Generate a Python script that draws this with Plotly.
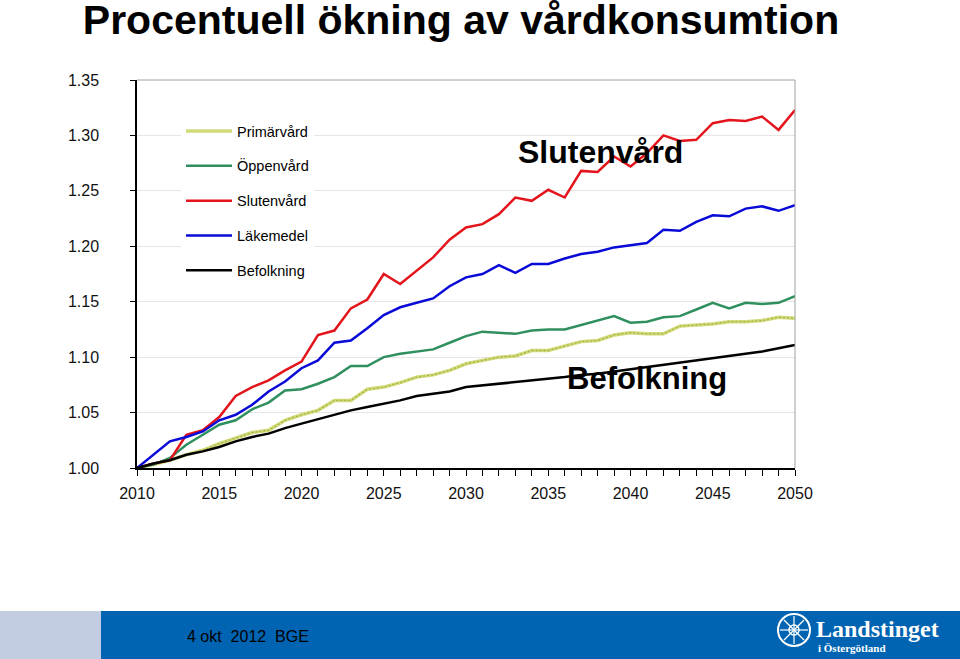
import plotly.graph_objects as go

years = list(range(2010, 2051))

primarvard = [1.000, 1.003, 1.007, 1.012, 1.016, 1.022, 1.027, 1.032, 1.034, 1.043,
              1.048, 1.052, 1.061, 1.061, 1.071, 1.073, 1.077, 1.082, 1.084, 1.088,
              1.094, 1.097, 1.100, 1.101, 1.106, 1.106, 1.110, 1.114, 1.115, 1.120,
              1.122, 1.121, 1.121, 1.128, 1.129, 1.130, 1.132, 1.132, 1.133, 1.136,
              1.135]
oppenvard = [1.000, 1.003, 1.009, 1.021, 1.030, 1.039, 1.043, 1.053, 1.059, 1.070,
             1.071, 1.076, 1.082, 1.092, 1.092, 1.100, 1.103, 1.105, 1.107, 1.113,
             1.119, 1.123, 1.122, 1.121, 1.124, 1.125, 1.125, 1.129, 1.133, 1.137,
             1.131, 1.132, 1.136, 1.137, 1.143, 1.149, 1.144, 1.149, 1.148, 1.149,
             1.155]
slutenvard = [1.000, 1.004, 1.007, 1.030, 1.034, 1.046, 1.065, 1.073, 1.079, 1.088,
              1.096, 1.120, 1.124, 1.144, 1.152, 1.175, 1.166, 1.178, 1.190, 1.206,
              1.217, 1.220, 1.229, 1.244, 1.241, 1.251, 1.244, 1.268, 1.267, 1.281,
              1.272, 1.284, 1.300, 1.295, 1.296, 1.311, 1.314, 1.313, 1.317, 1.305,
              1.323]
lakemedel = [1.000, 1.012, 1.024, 1.028, 1.033, 1.043, 1.048, 1.057, 1.069, 1.078,
             1.090, 1.097, 1.113, 1.115, 1.126, 1.138, 1.145, 1.149, 1.153, 1.164,
             1.172, 1.175, 1.183, 1.176, 1.184, 1.184, 1.189, 1.193, 1.195, 1.199,
             1.201, 1.203, 1.215, 1.214, 1.222, 1.228, 1.227, 1.234, 1.236, 1.232,
             1.237]
befolkning = [1.000, 1.004, 1.007, 1.012, 1.015, 1.019, 1.024, 1.028, 1.031, 1.036,
              1.040, 1.044, 1.048, 1.052, 1.055, 1.058, 1.061, 1.065, 1.067, 1.069,
              1.073, 1.0745, 1.076, 1.0775, 1.079, 1.080, 1.082, 1.084, 1.085, 1.087,
              1.089, 1.091, 1.093, 1.095, 1.097, 1.099, 1.101, 1.103, 1.105, 1.108,
              1.111]

y_ticks = [1.00, 1.05, 1.10, 1.15, 1.20, 1.25, 1.30, 1.35]
x_label_years = [2010, 2015, 2020, 2025, 2030, 2035, 2040, 2045, 2050]

title_text = "Procentuell ökning av vårdkonsumtion"
footer_text = "4 okt  2012  BGE"

FONT = "Liberation Sans, Arial, sans-serif"

fig = go.Figure()

fig.add_trace(go.Scatter(x=years, y=primarvard, mode="lines", name="Primärvård",
                         line=dict(color="#d2da7a", width=3.5), legendgroup="a"))
fig.add_trace(go.Scatter(x=years, y=primarvard, mode="lines", showlegend=False,
                         hoverinfo="skip",
                         line=dict(color="#a9b445", width=1.3, dash="2px,2px"),
                         legendgroup="a"))
fig.add_trace(go.Scatter(x=years, y=oppenvard, mode="lines", name="Öppenvård",
                         line=dict(color="#2f8f5f", width=2.5), legendgroup="b"))
fig.add_trace(go.Scatter(x=years, y=slutenvard, mode="lines", name="Slutenvård",
                         line=dict(color="#e3141b", width=2.5), legendgroup="c"))
fig.add_trace(go.Scatter(x=years, y=lakemedel, mode="lines", name="Läkemedel",
                         line=dict(color="#0a0ad8", width=2.5), legendgroup="d"))
fig.add_trace(go.Scatter(x=years, y=befolkning, mode="lines", name="Befolkning",
                         line=dict(color="#000000", width=2.5), legendgroup="e"))

W, H = 960, 659
L, R, T, B = 137, 795, 80, 468
pw, ph = R - L, B - T


def px(x):
    return (x - L) / pw


def py(y):
    return (B - y) / ph


shapes = [
    # top and right border of plot area
    dict(type="line", xref="paper", yref="paper", x0=0, x1=1, y0=1, y1=1,
         line=dict(color="#a0a0a0", width=1)),
    dict(type="line", xref="paper", yref="paper", x0=1, x1=1, y0=0, y1=1,
         line=dict(color="#a0a0a0", width=1)),
    # footer bands
    dict(type="rect", xref="paper", yref="paper", x0=px(0), x1=px(101),
         y0=py(659), y1=py(611), fillcolor="#c2cde1", line=dict(width=0), layer="above"),
    dict(type="rect", xref="paper", yref="paper", x0=px(101), x1=px(960),
         y0=py(659), y1=py(611), fillcolor="#0064b2", line=dict(width=0), layer="above"),
    # logo emblem
    dict(type="circle", xref="paper", yref="paper", x0=px(778), x1=px(810),
         y0=py(646), y1=py(614), line=dict(color="white", width=2), layer="above"),
    dict(type="circle", xref="paper", yref="paper", x0=px(789), x1=px(799),
         y0=py(635), y1=py(625), line=dict(color="white", width=1.5), layer="above"),
]
for (x0, y0, x1, y1) in [(794, 616, 794, 644), (780, 630, 808, 630),
                         (784, 620, 804, 640), (784, 640, 804, 620)]:
    shapes.append(dict(type="line", xref="paper", yref="paper",
                       x0=px(x0), x1=px(x1), y0=py(y0), y1=py(y1),
                       line=dict(color="white", width=1.2), layer="above"))

annotations = [
    dict(text="<b>Slutenvård</b>", x=2038.15, y=1.2847, xref="x", yref="y",
         showarrow=False, font=dict(family=FONT, size=32, color="#000000")),
    dict(text="<b>Befolkning</b>", x=2041.0, y=1.081, xref="x", yref="y",
         showarrow=False, font=dict(family=FONT, size=31, color="#000000")),
    dict(text=footer_text, x=px(185), y=py(636), xref="paper", yref="paper",
         xanchor="left", yanchor="middle", showarrow=False,
         font=dict(family="Liberation Sans Narrow, Liberation Sans, Arial", size=16,
                   color="#000000")),
    dict(text="<b>Landstinget</b>", x=px(814), y=py(629), xref="paper", yref="paper",
         xanchor="left", yanchor="middle", showarrow=False,
         font=dict(family="Liberation Serif, DejaVu Serif, serif", size=24, color="white")),
    dict(text="<b>i Östergötland</b>", x=px(816), y=py(648), xref="paper", yref="paper",
         xanchor="left", yanchor="middle", showarrow=False,
         font=dict(family="Liberation Serif, DejaVu Serif, serif", size=11, color="white")),
]

fig.update_layout(
    width=W, height=H,
    margin=dict(l=L, r=W - R, t=T, b=H - B, pad=0),
    paper_bgcolor="white", plot_bgcolor="white",
    font=dict(family=FONT, color="#111111"),
    title=dict(text="<b>" + title_text + "</b>", x=461 / W, xanchor="center",
               y=1 - 20 / H, yanchor="middle", xref="container", yref="container",
               font=dict(family=FONT, size=41, color="#000000")),
    showlegend=True,
    legend=dict(x=px(181), y=py(115), xanchor="left", yanchor="top",
                bgcolor="white", borderwidth=0, traceorder="grouped",
                itemwidth=46, tracegroupgap=13,
                font=dict(family=FONT, size=14.5, color="#000000")),
    shapes=shapes,
    annotations=annotations,
    xaxis=dict(range=[2010, 2050], tickmode="array", tickvals=years,
               ticktext=[str(yv) if yv in x_label_years else "" for yv in years],
               ticks="outside", ticklen=6, tickwidth=1, tickcolor="#000000",
               showline=True, linecolor="#000000", linewidth=1.5,
               showgrid=False, zeroline=False, ticklabelstandoff=4,
               tickfont=dict(family=FONT, size=16, color="#111111")),
    yaxis=dict(range=[1.0, 1.35], tickmode="array", tickvals=y_ticks,
               ticktext=["%.2f" % v for v in y_ticks],
               ticks="outside", ticklen=5, tickwidth=1, tickcolor="#000000",
               showline=True, linecolor="#000000", linewidth=1.5,
               showgrid=True, gridcolor="#e6e6e6", gridwidth=1, zeroline=False,
               ticklabelstandoff=28,
               tickfont=dict(family=FONT, size=16, color="#111111")),
)

fig.write_html("out.html", config={"displayModeBar": False},
               post_script="document.body.style.margin='0';"
                           "document.body.style.overflow='hidden';")
